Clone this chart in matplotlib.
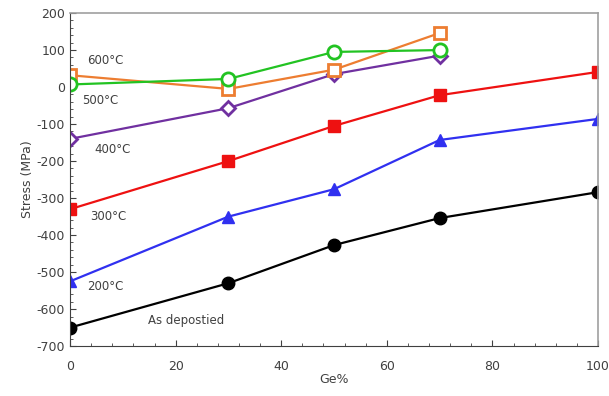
import matplotlib
matplotlib.use("Agg")
import matplotlib.pyplot as plt
from matplotlib.ticker import MultipleLocator, FuncFormatter

ge_full = [0, 30, 50, 70, 100]
ge_part = [0, 30, 50, 70]
as_dep = [-650, -530, -427, -354, -284]
t200 = [-525, -350, -276, -143, -86]
t300 = [-330, -200, -105, -22, 41]
t400 = [-140, -57, 35, 85]
t500 = [32, -5, 47, 146]
t600 = [7, 22, 95, 100]

fig = plt.figure(figsize=(6.09, 3.96), dpi=100)
ax = fig.add_axes([0.115, 0.126, 0.867, 0.841])

lw = 1.6
ax.plot(ge_full, as_dep, color='black', marker='o', ms=9, lw=lw)
ax.plot(ge_full, t200, color='#3030f0', marker='^', ms=8, lw=lw)
ax.plot(ge_full, t300, color='#ee1111', marker='s', ms=8, lw=lw)
ax.plot(ge_part, t400, color='#7030a0', marker='D', ms=7.5, lw=lw, mfc='white', mew=2)
ax.plot(ge_part, t500, color='#ed7d31', marker='s', ms=9, lw=lw, mfc='white', mew=2)
ax.plot(ge_part, t600, color='#22c322', marker='o', ms=9.5, lw=lw, mfc='white', mew=2)

txt = dict(color='#404040', fontsize=8.5, va='center')
ax.text(3.2, 73, '600°C', **txt)
ax.text(2.3, -35, '500°C', **txt)
ax.text(4.7, -170, '400°C', **txt)
ax.text(3.8, -351, '300°C', **txt)
ax.text(3.2, -540, '200°C', **txt)
ax.text(14.8, -630, 'As depostied', **txt)

ax.set_xlim(0, 100)
ax.set_ylim(-700, 200)
ax.xaxis.set_major_locator(MultipleLocator(20))
ax.xaxis.set_minor_locator(MultipleLocator(4))
ax.yaxis.set_major_locator(MultipleLocator(100))
ax.yaxis.set_minor_locator(MultipleLocator(20))
ax.yaxis.set_major_formatter(FuncFormatter(lambda v, p: str(int(round(v)))))
ax.tick_params(axis='both', which='both', direction='in', colors='#404040', labelsize=9)
ax.tick_params(which='major', length=4)
ax.tick_params(which='minor', length=2.5)
ax.tick_params(axis='x', pad=10)
for s in ['top', 'right']:
    ax.spines[s].set_color('#a0a0a0')
    ax.spines[s].set_linewidth(1.2)
for s in ['left', 'bottom']:
    ax.spines[s].set_color('#404040')
ax.set_xlabel('Ge%', color='#404040', fontsize=9, labelpad=0)
ax.set_ylabel('Stress (MPa)', color='#404040', fontsize=9, labelpad=2)

fig.savefig('out.png', dpi=100)
